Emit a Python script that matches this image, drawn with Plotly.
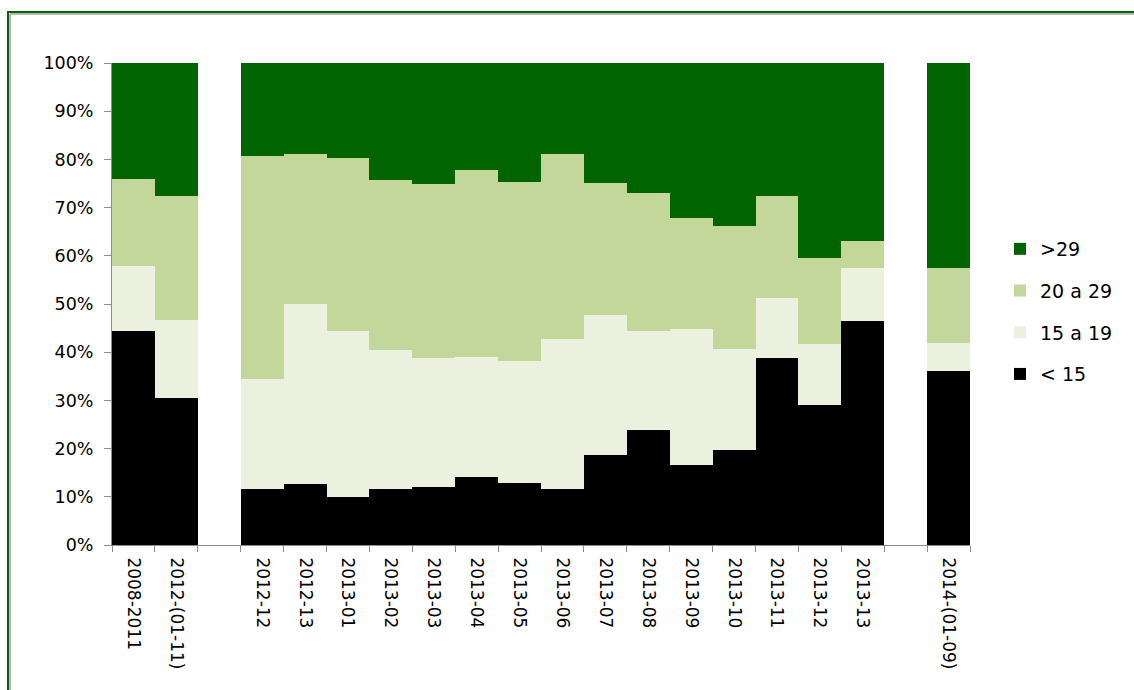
import plotly.graph_objects as go

categories = ["2008-2011", "2012-(01-11)", "\u200b", "2012-12", "2012-13", "2013-01", "2013-02",
              "2013-03", "2013-04", "2013-05", "2013-06", "2013-07", "2013-08", "2013-09",
              "2013-10", "2013-11", "2013-12", "2013-13", "\u200b\u200b", "2014-(01-09)"]

lt15 = [44.3, 30.6, None, 11.6, 12.7, 9.9, 11.6, 12.1, 14.2, 12.9, 11.6, 18.7, 23.9, 16.7,
        19.7, 38.7, 29.0, 46.5, None, 36.1]
a15_19 = [13.6, 16.0, None, 22.8, 37.2, 34.5, 28.9, 26.8, 24.8, 25.2, 31.1, 29.1, 20.6, 28.2,
          21.0, 12.5, 12.8, 11.0, None, 5.9]
a20_29 = [18.0, 25.9, None, 46.3, 31.2, 35.9, 35.3, 36.0, 38.9, 37.2, 38.4, 27.4, 28.5, 22.9,
          25.5, 21.3, 17.7, 5.5, None, 15.4]
gt29 = [24.1, 27.5, None, 19.3, 18.9, 19.7, 24.2, 25.1, 22.1, 24.7, 18.9, 24.8, 27.0, 32.2,
        33.8, 27.5, 40.5, 37.0, None, 42.6]

series = [("< 15", lt15, "#000000"),
          ("15 a 19", a15_19, "#EBF1DE"),
          ("20 a 29", a20_29, "#C4D79B"),
          (">29", gt29, "#006400")]

FONT = "DejaVu Sans"
fig = go.Figure()
n = len(series)
for i, (name, vals, col) in enumerate(series):
    fig.add_trace(go.Bar(x=categories, y=vals, name=name, legendgroup=f"g{i}",
                         legendrank=n - i,
                         marker=dict(color=col, line=dict(width=0))))

W, H = 1134, 690
L, R, T, B = 112, 970, 63, 545
pw, ph = R - L, B - T

def px(x):
    return (x - L) / pw

def py(y):
    return (B - y) / ph

fig.update_layout(
    width=W, height=H,
    margin=dict(l=L, r=W - R, t=T, b=H - B, pad=0),
    paper_bgcolor="white", plot_bgcolor="white",
    barmode="stack", bargap=0,
    font=dict(family=FONT, size=17, color="#000000"),
    showlegend=True,
    legend=dict(x=px(1000), y=py(230), xanchor="left", yanchor="top",
                traceorder="grouped", tracegroupgap=14,
                font=dict(family=FONT, size=19, color="#000000"),
                bgcolor="rgba(0,0,0,0)"),
    xaxis=dict(type="category", categoryorder="array", categoryarray=categories,
               tickangle=90, tickson="boundaries", ticks="outside", ticklen=6,
               tickcolor="#8c8c8c", showline=True, linecolor="#8c8c8c", linewidth=1,
               showgrid=False, zeroline=False, range=[-0.5, len(categories) - 0.5],
               ticklabelstandoff=8,
               tickfont=dict(family=FONT, size=17, color="#000000")),
    yaxis=dict(range=[0, 100], dtick=10, ticksuffix="%", ticks="outside", ticklen=7,
               tickcolor="#8c8c8c", showline=True, linecolor="#8c8c8c", linewidth=1,
               showgrid=False, zeroline=False, ticklabelstandoff=7,
               tickfont=dict(family=FONT, size=17.5, color="#000000")),
    shapes=[
        dict(type="line", xref="paper", yref="paper", x0=px(8), x1=px(1134), y0=py(12), y1=py(12),
             line=dict(color="#006400", width=2)),
        dict(type="line", xref="paper", yref="paper", x0=px(10), x1=px(1134), y0=py(14), y1=py(14),
             line=dict(color="#a0a0a0", width=1.5)),
        dict(type="line", xref="paper", yref="paper", x0=px(8), x1=px(8), y0=py(11), y1=py(690),
             line=dict(color="#006400", width=2)),
        dict(type="line", xref="paper", yref="paper", x0=px(10), x1=px(10), y0=py(14), y1=py(690),
             line=dict(color="#a0a0a0", width=1.5)),
    ],
)

fig.write_html("out.html")
